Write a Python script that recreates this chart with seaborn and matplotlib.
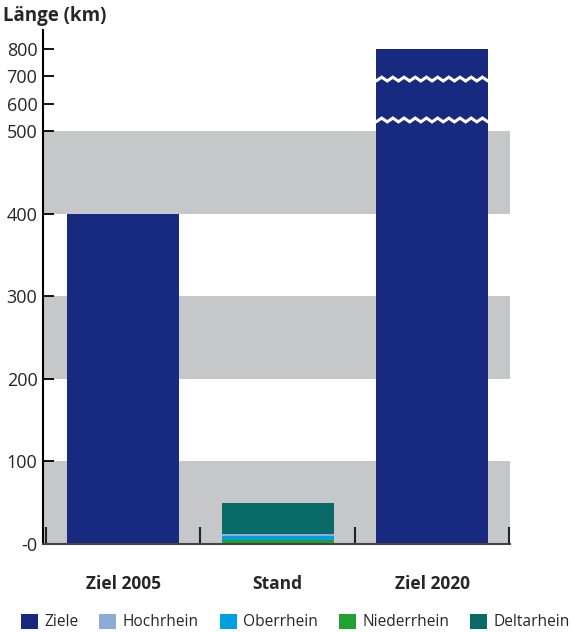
import numpy as np
import pandas as pd
import matplotlib
matplotlib.use("Agg")
import matplotlib.pyplot as plt
from matplotlib.patches import Patch
import seaborn as sns

# ---- data ----
categories = ["Ziel 2005", "Stand", "Ziel 2020"]
ziele = [400, 0, 800]
stand_series = ["Niederrhein", "Oberrhein", "Hochrhein", "Deltarhein"]  # bottom -> top
stand_values = [5, 5, 2, 38]
legend_labels = ["Ziele", "Hochrhein", "Oberrhein", "Niederrhein", "Deltarhein"]
y_ticks = [0, 100, 200, 300, 400, 500, 600, 700, 800]
y_ticklabels = ["-0", "100", "200", "300", "400", "500", "600", "700", "800"]
break_levels = [540, 690]

colors = {
    "Ziele": "#172a80",
    "Hochrhein": "#8eaad6",
    "Oberrhein": "#009fe0",
    "Niederrhein": "#21a131",
    "Deltarhein": "#0a6a68",
}

sns.set_theme(style="white")
plt.rcParams["font.family"] = ["Open Sans", "DejaVu Sans"]

fig = plt.figure(figsize=(5.71, 6.32), dpi=100)
ax = fig.add_axes([43 / 571, 1 - 544 / 632, 467 / 571, 514 / 632])

# broken (compressed) scale above 500
BRK, K = 500.0, 0.33
def fwd(v):
    v = np.asarray(v, dtype=float)
    return np.where(v <= BRK, v, BRK + (v - BRK) * K)
def inv(t):
    t = np.asarray(t, dtype=float)
    return np.where(t <= BRK, t, BRK + (t - BRK) / K)
ax.set_yscale("function", functions=(fwd, inv))

# gray bands
for lo in (0, 200, 400):
    ax.axhspan(lo, lo + 100, color="#c6c7c8", zorder=0, lw=0)

width = 0.725
df_z = pd.DataFrame({"cat": categories, "val": ziele})
sns.barplot(data=df_z, x="cat", y="val", order=categories, color=colors["Ziele"],
            width=width, saturation=1, errorbar=None, ax=ax, zorder=2,
            edgecolor="none", linewidth=0)

cum = np.cumsum(stand_values)
for name, top in reversed(list(zip(stand_series, cum))):
    d = pd.DataFrame({"cat": ["Stand"], "val": [top]})
    sns.barplot(data=d, x="cat", y="val", order=categories, color=colors[name],
                width=width, saturation=1, errorbar=None, ax=ax, zorder=2,
                edgecolor="none", linewidth=0)

# zigzag break marks on the tall bar
xi = categories.index("Ziel 2020")
xs = np.linspace(xi - width / 2, xi + width / 2, 21)
for lvl in break_levels:
    ys = lvl + 7 * np.where(np.arange(len(xs)) % 2 == 0, -1, 1)
    ax.plot(xs, ys, color="white", lw=2.2, zorder=3, solid_joinstyle="miter")

ax.set_xlim(-0.52, 2.505)
ax.set_ylim(0, 870)
ax.set_yticks(y_ticks)
ax.set_yticklabels(y_ticklabels)
ax.set_xlabel("")
ax.set_ylabel("")

for s in ("top", "right"):
    ax.spines[s].set_visible(False)
ax.spines["left"].set_color("black")
ax.spines["left"].set_linewidth(1.5)
ax.spines["bottom"].set_color("#444444")
ax.spines["bottom"].set_linewidth(1.5)
ax.spines["left"].set_zorder(4)
ax.spines["bottom"].set_zorder(4)

ax.tick_params(axis="y", direction="in", length=8, width=1.3, color="black",
               labelsize=13, pad=4, left=True)
ax.tick_params(axis="x", which="major", length=0, pad=22, labelsize=12.5)
for lab in ax.get_xticklabels():
    lab.set_fontweight("bold")
ax.set_xticks([-0.5, 0.5, 1.5, 2.5], minor=True)
ax.tick_params(axis="x", which="minor", direction="in", length=12, width=1.5,
               color="#222222", bottom=True)

fig.text(3 / 571, 1 - 16 / 632, "Länge (km)", fontsize=13.5, fontweight="bold",
         va="center", ha="left")

handles = [Patch(facecolor=colors[n], edgecolor="none") for n in legend_labels]
fig.legend(handles, legend_labels, loc="center", bbox_to_anchor=(0.517, 1 - 622 / 632),
           ncol=5, frameon=False, fontsize=11.2, handlelength=1.1, handleheight=1.1,
           handletextpad=0.4, columnspacing=1.35, borderaxespad=0)

fig.savefig("out.png", dpi=100)
